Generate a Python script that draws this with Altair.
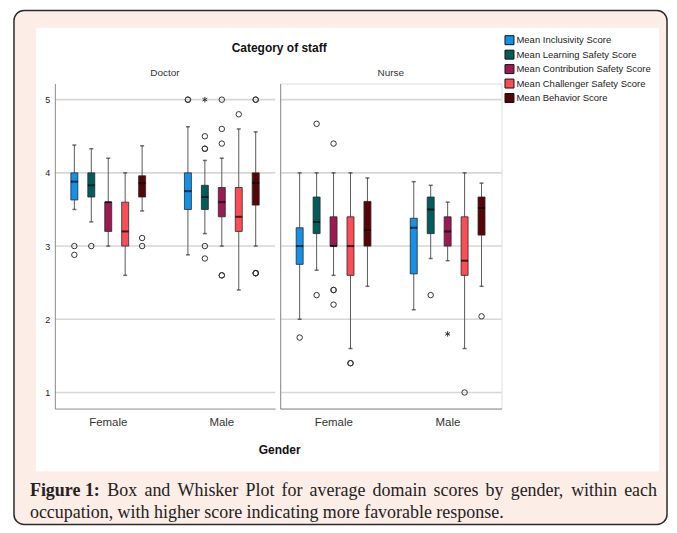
import altair as alt
import pandas as pd

# ---------------- data ----------------
series_names = [
    "Mean Inclusivity Score",
    "Mean Learning Safety Score",
    "Mean Contribution Safety Score",
    "Mean Challenger Safety Score",
    "Mean Behavior Score",
]
series_colors = ["#1192e8", "#005d5d", "#9f1853", "#fa4d56", "#570408"]
staff_groups = ["Doctor", "Nurse"]
genders = ["Female", "Male"]
y_ticks = [1, 2, 3, 4, 5]

box_staff = ["Doctor"] * 10 + ["Nurse"] * 10
box_gender = (["Female"] * 5 + ["Male"] * 5) * 2
box_series = series_names * 4
whisker_low = [3.50, 3.33, 3.00, 2.60, 3.48,
               2.88, 3.17, 3.00, 2.40, 3.00,
               2.00, 2.67, 2.60, 1.60, 2.45,
               2.13, 2.83, 2.80, 1.60, 2.45]
quartile_1 = [3.63, 3.67, 3.20, 3.00, 3.67,
              3.50, 3.50, 3.40, 3.20, 3.56,
              2.75, 3.17, 3.00, 2.60, 3.00,
              2.62, 3.17, 3.00, 2.60, 3.15]
medians = [3.88, 3.83, 3.60, 3.20, 3.86,
           3.75, 3.67, 3.60, 3.40, 3.86,
           3.00, 3.33, 3.00, 3.00, 3.22,
           3.25, 3.50, 3.20, 2.80, 3.52]
quartile_3 = [4.00, 4.00, 3.60, 3.60, 3.96,
              4.00, 3.83, 3.80, 3.80, 4.00,
              3.25, 3.67, 3.40, 3.40, 3.61,
              3.38, 3.67, 3.40, 3.40, 3.67]
whisker_high = [4.38, 4.33, 4.20, 4.00, 4.37,
                4.63, 4.17, 4.20, 4.60, 4.56,
                4.00, 4.00, 4.00, 4.00, 3.93,
                3.88, 3.83, 3.60, 4.00, 3.86]

S = series_names
out_staff = ["Doctor"] * 24 + ["Nurse"] * 13
out_gender = ["Female"] * 5 + ["Male"] * 19 + ["Female"] * 9 + ["Male"] * 4
out_series = ([S[0], S[0], S[1], S[4], S[4]]
              + [S[0], S[0], S[1], S[1], S[1], S[1], S[1], S[1],
                 S[2], S[2], S[2], S[2], S[2], S[3], S[4], S[4], S[4], S[4], S[4]]
              + [S[0], S[1], S[1], S[2], S[2], S[2], S[2], S[3], S[3]]
              + [S[1], S[2], S[3], S[4]])
out_value = ([3.00, 2.88, 3.00, 3.11, 3.00]
             + [5.00, 5.00, 5.00, 4.50, 4.33, 4.33, 3.00, 2.83,
                5.00, 4.60, 4.40, 2.60, 2.60, 4.80, 5.00, 5.00, 2.63, 2.63, 2.63]
             + [1.75, 4.67, 2.33, 4.40, 2.40, 2.40, 2.20, 1.40, 1.40]
             + [2.33, 1.80, 1.00, 2.04])
out_kind = (["outlier"] * 5
            + ["outlier", "outlier", "extreme"] + ["outlier"] * 16
            + ["outlier"] * 9
            + ["outlier", "extreme", "outlier", "outlier"])

caption_bold = "Figure 1:"
caption_line1 = ["Box", "and", "Whisker", "Plot", "for", "average", "domain",
                 "scores", "by", "gender,", "within", "each"]
caption_line2 = "occupation, with higher score indicating more favorable response."

# ---------------- tables ----------------
box_df = pd.DataFrame({
    "staff": box_staff, "gender": box_gender, "series": box_series,
    "lo": whisker_low, "q1": quartile_1, "med": medians,
    "q3": quartile_3, "hi": whisker_high,
})
out_df = pd.DataFrame({
    "staff": out_staff, "gender": out_gender, "series": out_series,
    "value": out_value, "kind": out_kind,
})
grid_df = pd.DataFrame({"g": y_ticks})
one = pd.DataFrame({"k": [0]})

SANS = "Liberation Sans"
SERIF = "Liberation Serif"
AXIS_GRAY = "#8c8c8c"
asterisk = "M0,-1L0,1M-0.87,-0.5L0.87,0.5M-0.87,0.5L0.87,-0.5"

# Times / Liberation Serif advance widths (per 1000 em) for justified caption line
TIMES = {" ": 250, ",": 250, ".": 250, "a": 444, "b": 500, "c": 444, "d": 500,
         "e": 444, "f": 333, "g": 500, "h": 500, "i": 278, "k": 500, "l": 278,
         "m": 778, "n": 500, "o": 500, "p": 500, "r": 333, "s": 389, "t": 278,
         "u": 500, "v": 500, "w": 722, "x": 500, "y": 500, "B": 667, "P": 556,
         "W": 944}
TIMES_BOLD = {"F": 611, "i": 278, "g": 500, "u": 556, "r": 444, "e": 444,
              " ": 250, "1": 500, ":": 333}
CAP_SIZE = 18


def text_width(s, table):
    return sum(table.get(c, 500) for c in s) * CAP_SIZE / 1000.0


y_scale = alt.Scale(domain=[0.78, 5.22], nice=False, zero=False)
x_scale = alt.Scale(domain=genders, paddingInner=0.06, paddingOuter=0)
xo_scale = alt.Scale(domain=series_names, paddingInner=0, paddingOuter=0.65)
color_scale = alt.Scale(domain=series_names, range=series_colors)


def deco_text(txt, x, y, **kw):
    return alt.Chart(one).mark_text(text=txt, baseline="middle", **kw).encode(
        x=alt.value(x), y=alt.value(y))


def panel(name, first, width):
    if first:
        y_axis = alt.Axis(values=y_ticks, grid=False, ticks=False, labelFontSize=9,
                          labelPadding=5, labelColor="#222", domainColor=AXIS_GRAY,
                          title=None, zindex=1, format="d", labelFont=SANS)
        x_axis = alt.Axis(title="Gender", ticks=False, labelFontSize=11.5, labelColor="#333",
                          labelPadding=8, domainColor=AXIS_GRAY, labelAngle=0, zindex=1,
                          titleX=225, titleY=41, titleFontSize=12, titleFontWeight="bold",
                          titleColor="#111", titleBaseline="middle", labelFont=SANS,
                          titleFont=SANS)
    else:
        y_axis = alt.Axis(labels=False, grid=False, ticks=False, domainColor=AXIS_GRAY,
                          title=None, zindex=1)
        x_axis = alt.Axis(title=None, ticks=False, labelFontSize=11.5, labelColor="#333",
                          labelPadding=8, domainColor=AXIS_GRAY, labelAngle=0, zindex=1,
                          labelFont=SANS)

    legend = alt.Legend(title=None, orient="none", legendX=451, legendY=-48.5,
                        symbolType="square", symbolSize=81, symbolStrokeColor="#111",
                        symbolStrokeWidth=1, symbolOpacity=1, labelFontSize=9.5,
                        labelFont=SANS, labelColor="#222", rowPadding=0.5, labelOffset=2,
                        padding=0, labelLimit=220)

    X = alt.X("gender:N", scale=x_scale, axis=x_axis, sort=genders)
    XO = alt.XOffset("series:N", scale=xo_scale, sort=series_names)

    boxes = alt.Chart(box_df).transform_filter(alt.datum.staff == name)

    grid = alt.Chart(grid_df).mark_rule(color="#d7d7d7", strokeWidth=1.6).encode(
        y=alt.Y("g:Q", scale=y_scale, axis=y_axis))

    whisk = boxes.mark_rule(color="#5a5a5a", strokeWidth=1).encode(
        x=X, xOffset=XO,
        y=alt.Y("lo:Q", scale=y_scale, axis=y_axis), y2="hi:Q")

    cap_lo = boxes.mark_tick(color="#333", size=4, thickness=1.5).encode(
        x=X, xOffset=XO, y=alt.Y("lo:Q", scale=y_scale, axis=y_axis))
    cap_hi = boxes.mark_tick(color="#333", size=4, thickness=1.5).encode(
        x=X, xOffset=XO, y=alt.Y("hi:Q", scale=y_scale, axis=y_axis))

    bar = boxes.mark_bar(width=7, stroke="#2a2a2a", strokeWidth=0.8, opacity=1).encode(
        x=X, xOffset=XO,
        y=alt.Y("q1:Q", scale=y_scale, axis=y_axis), y2="q3:Q",
        color=alt.Color("series:N", scale=color_scale, legend=legend, sort=series_names))

    med = boxes.mark_tick(color="#000", size=7, thickness=2).encode(
        x=X, xOffset=XO, y=alt.Y("med:Q", scale=y_scale, axis=y_axis))

    pts = alt.Chart(out_df).transform_filter(alt.datum.staff == name).mark_point(
        filled=False, color="#333", size=30, strokeWidth=1, opacity=1).encode(
        x=X, xOffset=XO,
        y=alt.Y("value:Q", scale=y_scale, axis=y_axis),
        shape=alt.Shape("kind:N", scale=alt.Scale(domain=["outlier", "extreme"],
                                                  range=["circle", asterisk]), legend=None))

    header = deco_text(name, width / 2, -11, font=SANS, fontSize=10, color="#333",
                       align="center")

    layers = []
    if first:
        pink = alt.Chart(one).mark_rect(fill="#fdede7", stroke="#2b2b2b", strokeWidth=1.5,
                                        cornerRadius=10).encode(
            x=alt.value(-41), x2=alt.value(614), y=alt.value(-73.25), y2=alt.value(442.25))
        white = alt.Chart(one).mark_rect(fill="#ffffff").encode(
            x=alt.value(-19), x2=alt.value(606), y=alt.value(-56), y2=alt.value(389))
        title = deco_text("Category of staff", 225, -36, font=SANS, fontSize=12,
                          fontWeight="bold", color="#111", align="center")
        layers = [pink, white, title]

        # caption (justified first line)
        x0, x1 = -25.0, 604.0
        bold_w = text_width(caption_bold, TIMES_BOLD)
        word_w = [text_width(w, TIMES) for w in caption_line1]
        gap = (x1 - x0 - bold_w - sum(word_w)) / len(caption_line1)
        layers.append(deco_text(caption_bold, x0, 409, font=SERIF, fontSize=CAP_SIZE,
                                fontWeight="bold", color="#222", align="left"))
        cx = x0 + bold_w + gap
        for w, ww in zip(caption_line1, word_w):
            layers.append(deco_text(w, cx, 409, font=SERIF, fontSize=CAP_SIZE,
                                    color="#222", align="left"))
            cx += ww + gap
        layers.append(deco_text(caption_line2, x0, 431, font=SERIF, fontSize=CAP_SIZE,
                                color="#222", align="left"))
    layers += [grid, whisk, cap_lo, cap_hi, bar, med, pts, header]
    return alt.layer(*layers).properties(width=width, height=326)


chart = alt.hconcat(
    panel("Doctor", True, 221),
    panel("Nurse", False, 222),
    spacing=5, bounds="flush",
).properties(
    padding={"left": 4, "top": 0, "right": 0, "bottom": 0},
    background="#ffffff",
).configure_view(stroke=None).configure(font=SANS)

chart.save("out.html", embed_options={"renderer": "svg", "actions": False})
